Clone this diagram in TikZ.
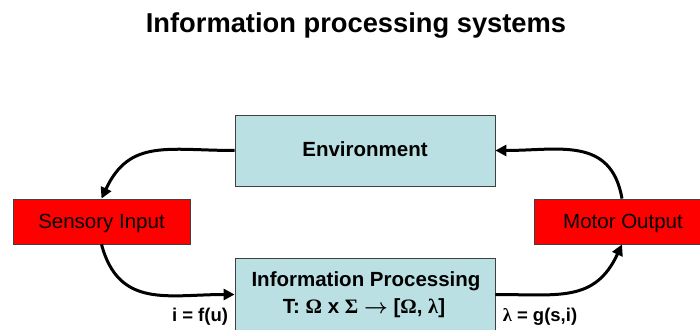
\documentclass[tikz,border=0pt]{standalone}
\usepackage{fontspec}
\setmainfont{Liberation Sans}
\newfontfamily\grk{Liberation Serif}
\usetikzlibrary{arrows.meta}
\definecolor{boxblue}{HTML}{BAE0E3}
\definecolor{boxred}{HTML}{FF0000}
\definecolor{edgegray}{HTML}{404040}
\tikzset{
  bluebox/.style={draw=edgegray, line width=0.8pt, fill=boxblue, rectangle, inner sep=0pt},
  redbox/.style={draw=edgegray, line width=0.8pt, fill=boxred, rectangle, inner sep=0pt},
  flow/.style={line width=3pt, -{Triangle[length=11pt,width=11pt]}, looseness=1.2},
  boxtext/.style={font=\fontsize{20.5}{24}\selectfont\bfseries, anchor=base},
  lbl/.style={font=\fontsize{18.5}{22}\selectfont\bfseries, anchor=base},
}
\begin{document}
\begin{tikzpicture}[x=1pt,y=1pt]
\useasboundingbox (0,0) rectangle (700,329);
\node[anchor=base, font=\fontsize{27.3}{32}\selectfont\bfseries] (title) at (356,296) {Information processing systems};
\node[bluebox, minimum width=260pt, minimum height=71pt] (env) at (365,178.5) {};
\node[boxtext] (envt) at (365,172) {Environment};
\node[redbox, minimum width=177pt, minimum height=45pt] (sens) at (101.5,107.5) {};
\node[anchor=base, font=\fontsize{20.5}{24}\selectfont] (senst) at (101.5,100.5) {Sensory Input};
\node[redbox, minimum width=176pt, minimum height=45pt] (mot) at (622,107.5) {};
\node[anchor=base, font=\fontsize{20.5}{24}\selectfont] (mott) at (623,100.5) {Motor Output};
\node[bluebox, minimum width=260pt, minimum height=73pt] (info) at (365,34.5) {};
\node[boxtext] (info1) at (366,43) {Information Processing};
\node[boxtext] (info2) at (364,16) {T: {\grk Ω} x {\grk Σ} {\boldmath$\rightarrow$} [{\grk Ω}, {\grk λ}]};
\node[lbl] (lf) at (200,8) {i = f(u)};
\node[lbl] (lg) at (540,8) {{\grk λ} = g(s,i)};
\draw[flow] (env.west) to[out=180,in=65] (sens.north);
\draw[flow] (sens.south) to[out=-75,in=180] (info.west);
\draw[flow] (info.east) to[out=0,in=-115] (mot.south);
\draw[flow] (mot.north) to[out=100,in=0] (env.east);
\end{tikzpicture}
\end{document}
